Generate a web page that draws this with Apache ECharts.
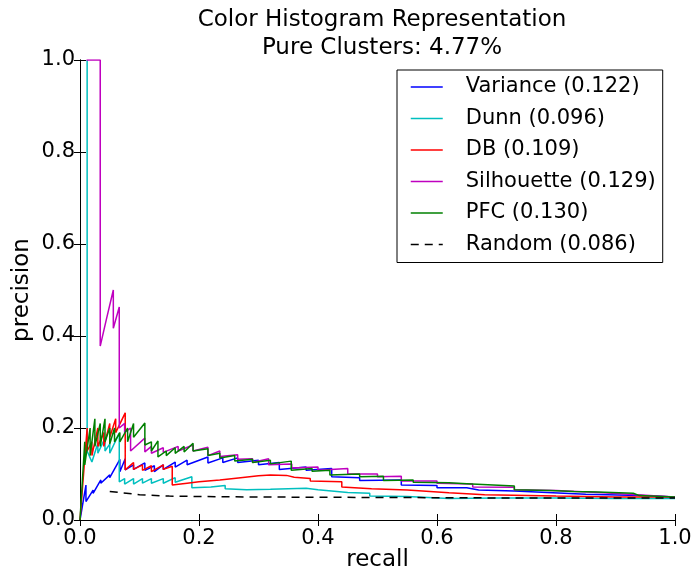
<!DOCTYPE html>
<html>
<head>
<meta charset="utf-8">
<script src="https://cdn.jsdelivr.net/npm/echarts@6/dist/echarts.min.js"></script>
<style>html,body{margin:0;padding:0;background:#fff}#c{width:694px;height:571px}</style>
</head>
<body>
<div id="c"></div>
<script>
var titleLines = ["Color Histogram Representation", "Pure Clusters: 4.77%"];
var xTicks = [0, 0.2, 0.4, 0.6, 0.8, 1.0];
var seriesNames = ["Variance (0.122)", "Dunn (0.096)", "DB (0.109)", "Silhouette (0.129)", "PFC (0.130)", "Random (0.086)"];

var variance = [[0,0],[0.01,0.076],[0.01,0.04],[0.022,0.065],[0.022,0.058],[0.035,0.087],[0.035,0.08],[0.05,0.098],[0.05,0.092],[0.067,0.132],[0.067,0.105],[0.076,0.133],[0.076,0.109],[0.09,0.12],[0.09,0.11],[0.109,0.124],[0.109,0.108],[0.125,0.118],[0.125,0.105],[0.14,0.12],[0.14,0.11],[0.16,0.126],[0.16,0.115],[0.18,0.13],[0.18,0.12],[0.215,0.137],[0.215,0.124],[0.24,0.135],[0.24,0.125],[0.265,0.135],[0.265,0.125],[0.3,0.13],[0.3,0.12],[0.335,0.125],[0.335,0.11],[0.38,0.115],[0.38,0.108],[0.423,0.112],[0.423,0.094],[0.47,0.092],[0.47,0.086],[0.54,0.087],[0.54,0.076],[0.6,0.075],[0.6,0.07],[0.65,0.07],[0.67,0.065],[0.73,0.063],[0.73,0.06],[0.85,0.056],[0.94,0.053],[1.0,0.05]];

var dunn = [[0.012,1.0],[0.012,0.15],[0.02,0.126],[0.03,0.167],[0.03,0.145],[0.042,0.178],[0.042,0.15],[0.05,0.165],[0.05,0.145],[0.066,0.189],[0.066,0.083],[0.075,0.09],[0.075,0.078],[0.09,0.09],[0.09,0.078],[0.105,0.09],[0.105,0.08],[0.12,0.09],[0.12,0.08],[0.14,0.09],[0.14,0.08],[0.16,0.092],[0.16,0.082],[0.188,0.094],[0.188,0.07],[0.22,0.072],[0.244,0.075],[0.244,0.068],[0.28,0.066],[0.32,0.067],[0.38,0.069],[0.4,0.066],[0.4,0.062],[0.45,0.06],[0.487,0.058],[0.487,0.052],[0.55,0.051],[0.62,0.047],[0.7,0.048],[0.8,0.048],[0.9,0.047],[1.0,0.047]];

var db = [[0,0],[0.012,0.2],[0.012,0.15],[0.02,0.17],[0.02,0.14],[0.03,0.2],[0.03,0.16],[0.04,0.19],[0.04,0.16],[0.05,0.21],[0.05,0.18],[0.06,0.22],[0.06,0.19],[0.076,0.233],[0.076,0.109],[0.09,0.125],[0.09,0.11],[0.105,0.12],[0.105,0.108],[0.12,0.118],[0.12,0.105],[0.14,0.12],[0.14,0.11],[0.155,0.117],[0.155,0.076],[0.18,0.08],[0.2,0.083],[0.235,0.087],[0.27,0.092],[0.3,0.096],[0.32,0.098],[0.347,0.097],[0.36,0.093],[0.387,0.09],[0.387,0.085],[0.44,0.083],[0.44,0.072],[0.49,0.068],[0.55,0.065],[0.55,0.062],[0.62,0.059],[0.68,0.055],[0.68,0.052],[0.8,0.052],[0.9,0.05],[1.0,0.05]];

var silhouette = [[0.011,1.0],[0.034,1.0],[0.034,0.378],[0.045,0.44],[0.056,0.5],[0.056,0.417],[0.066,0.463],[0.066,0.2],[0.075,0.21],[0.075,0.19],[0.085,0.2],[0.085,0.15],[0.109,0.178],[0.109,0.148],[0.12,0.16],[0.12,0.145],[0.14,0.157],[0.14,0.147],[0.165,0.16],[0.165,0.15],[0.19,0.163],[0.19,0.15],[0.215,0.158],[0.215,0.14],[0.235,0.15],[0.235,0.138],[0.265,0.142],[0.265,0.132],[0.29,0.133],[0.29,0.125],[0.317,0.133],[0.317,0.12],[0.356,0.122],[0.356,0.113],[0.4,0.115],[0.4,0.108],[0.45,0.112],[0.45,0.1],[0.5,0.1],[0.5,0.094],[0.54,0.095],[0.54,0.085],[0.6,0.085],[0.6,0.08],[0.66,0.078],[0.66,0.072],[0.73,0.071],[0.73,0.066],[0.8,0.064],[0.8,0.06],[0.88,0.059],[0.88,0.055],[0.95,0.054],[1.0,0.05]];

var pfc = [[0,0],[0.008,0.17],[0.008,0.12],[0.017,0.2],[0.017,0.14],[0.025,0.22],[0.025,0.16],[0.034,0.21],[0.034,0.16],[0.042,0.22],[0.042,0.17],[0.05,0.2],[0.05,0.165],[0.058,0.2],[0.058,0.17],[0.067,0.19],[0.067,0.17],[0.08,0.2],[0.08,0.17],[0.09,0.21],[0.09,0.18],[0.109,0.211],[0.109,0.163],[0.12,0.17],[0.12,0.15],[0.131,0.172],[0.131,0.137],[0.145,0.15],[0.145,0.14],[0.16,0.157],[0.16,0.145],[0.175,0.16],[0.175,0.148],[0.19,0.167],[0.19,0.15],[0.215,0.155],[0.215,0.14],[0.235,0.145],[0.235,0.135],[0.26,0.14],[0.26,0.128],[0.29,0.132],[0.29,0.125],[0.32,0.13],[0.32,0.122],[0.355,0.128],[0.355,0.108],[0.39,0.112],[0.39,0.106],[0.42,0.108],[0.42,0.098],[0.47,0.1],[0.47,0.094],[0.51,0.095],[0.51,0.086],[0.56,0.087],[0.56,0.082],[0.62,0.081],[0.65,0.079],[0.65,0.075],[0.73,0.074],[0.73,0.066],[0.79,0.064],[0.83,0.062],[0.87,0.061],[0.93,0.058],[0.94,0.053],[1.0,0.05]];

var random = [[0.05,0.062],[0.1,0.055],[0.15,0.052],[0.2,0.051],[0.3,0.05],[0.5,0.049],[0.7,0.048],[1.0,0.048]];

var colors = ["#0000ff", "#00bfbf", "#ff0000", "#bf00bf", "#008000", "#000000"];
var datasets = [variance, dunn, db, silhouette, pfc, random];

var FONT = "DejaVu Sans";
var chart = echarts.init(document.getElementById('c'), null, {renderer: 'canvas'});

function dashOf(i) { return i === 5 ? [8, 6] : 'solid'; }

function mkSeries(i) {
  return {
    name: seriesNames[i],
    type: 'line',
    data: datasets[i],
    symbol: 'none',
    showSymbol: false,
    animation: false,
    xAxisIndex: 0, yAxisIndex: 0,
    lineStyle: {color: colors[i], width: 1.5, type: dashOf(i)},
    itemStyle: {color: colors[i]},
    z: 2 + i
  };
}

var legendData = seriesNames.map(function (n, i) {
  return {
    name: n,
    itemStyle: {opacity: 0},
    lineStyle: {color: colors[i], width: 1.5, type: dashOf(i), opacity: 1}
  };
});

var tickFmt = function (v) { return v.toFixed(1); };
var axisLineStyle = {show: true, lineStyle: {color: '#000', width: 1}};
var tick = {show: true, inside: true, length: 6, lineStyle: {color: '#000', width: 1}};

var option = {
  animation: false,
  backgroundColor: '#fff',
  title: {
    text: titleLines.join('\n'),
    left: 377, top: 1, textAlign: 'center',
    textStyle: {fontFamily: FONT, fontSize: 23, fontWeight: 'normal', color: '#000', lineHeight: 28}
  },
  grid: {left: 80, right: 19, top: 60, bottom: 51, containLabel: false, outerBoundsMode: 'none'},
  legend: {
    orient: 'vertical', left: 397, top: 70,
    data: legendData,
    backgroundColor: '#fff',
    borderColor: '#000', borderWidth: 1, borderRadius: 0,
    padding: [5, 7, 6, 13],
    itemWidth: 32, itemHeight: 12, itemGap: 7.5,
    textStyle: {fontFamily: FONT, fontSize: 21, color: '#000', lineHeight: 24, padding: [0, 0, 0, 18]}
  },
  xAxis: [
    {type: 'value', min: 0, max: 1, interval: 0.2, position: 'bottom',
     name: 'recall', nameLocation: 'middle', nameGap: 29, nameMoveOverlap: false,
     nameTextStyle: {fontFamily: FONT, fontSize: 23, color: '#000'},
     axisLine: axisLineStyle, axisTick: tick, splitLine: {show: false},
     axisLabel: {fontFamily: FONT, fontSize: 21, color: '#000', margin: 8, formatter: tickFmt}},
    {type: 'value', min: 0, max: 1, interval: 0.2, position: 'top', z: 20,
     axisLine: axisLineStyle, axisTick: tick, splitLine: {show: false}, axisLabel: {show: false}}
  ],
  yAxis: [
    {type: 'value', min: 0, max: 1, interval: 0.2, position: 'left',
     name: 'precision', nameLocation: 'middle', nameGap: 46, nameMoveOverlap: false,
     nameTextStyle: {fontFamily: FONT, fontSize: 23, color: '#000'},
     axisLine: axisLineStyle, axisTick: tick, splitLine: {show: false},
     axisLabel: {fontFamily: FONT, fontSize: 21, color: '#000', margin: 5, formatter: tickFmt}},
    {type: 'value', min: 0, max: 1, interval: 0.2, position: 'right',
     axisLine: axisLineStyle, axisTick: tick, splitLine: {show: false}, axisLabel: {show: false}}
  ],
  series: [0,1,2,3,4,5].map(mkSeries)
};
chart.setOption(option);
</script>
</body>
</html>
